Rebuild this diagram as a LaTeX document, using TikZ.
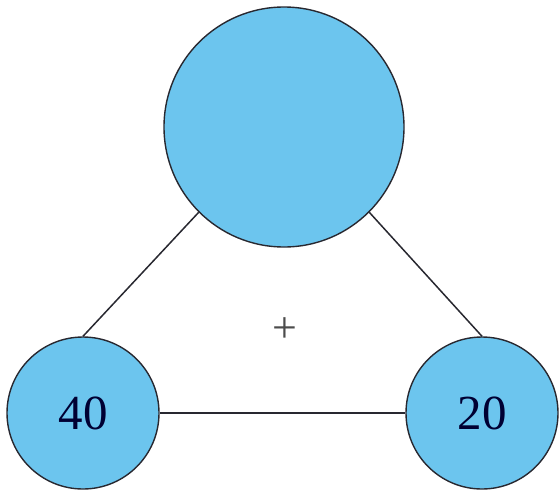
\documentclass[tikz,border=0pt]{standalone}
\usepackage{fontspec}
\setmainfont{Liberation Serif}
\definecolor{ballblue}{RGB}{108,197,238}
\definecolor{edgegray}{RGB}{40,40,48}
\begin{document}
\begin{tikzpicture}[x=1pt,y=-1pt,
  ball/.style={circle,draw=edgegray,line width=1.4pt,fill=ballblue,inner sep=0pt,
    font=\fontsize{49}{49}\selectfont,text=black!80!blue},
  link/.style={draw=edgegray,line width=1.5pt}]
\useasboundingbox (0,0) rectangle (559,490);
\node[ball,minimum size=240pt] (top) at (284,127) {};
\node[ball,minimum size=152pt] (left) at (83,413) {40};
\node[ball,minimum size=152pt] (right) at (482,413) {20};
\node[font=\fontsize{44}{44}\selectfont,text=black!70] (plus) at (285,330) {+};
\draw[link] (top.225) -- (left.north);
\draw[link] (top.-45) -- (right.north);
\draw[link] (left.east) -- (right.west);
\end{tikzpicture}
\end{document}
